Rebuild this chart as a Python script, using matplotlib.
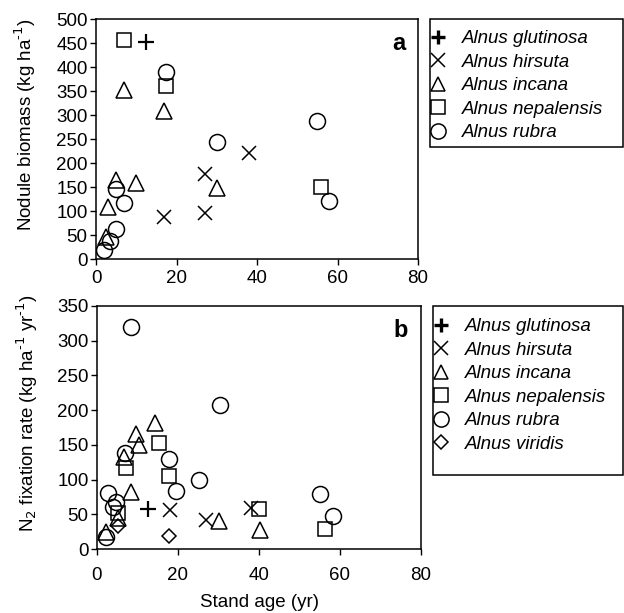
import matplotlib.pyplot as plt
import matplotlib.patches as patches
from matplotlib.lines import Line2D

plt.rcParams['font.family'] = ['Liberation Sans', 'DejaVu Sans']

# ---- panel a: nodule biomass ----
a_glut_x = [12.5]
a_glut_y = [452]
a_hirs_x = [17, 27, 27, 38]
a_hirs_y = [88, 95, 178, 220]
a_inca_x = [7, 17, 5, 10, 3, 30, 2.5]
a_inca_y = [353, 308, 165, 158, 108, 147, 45]
a_nepa_x = [7, 17.5, 56]
a_nepa_y = [457, 360, 149]
a_rubr_x = [17.5, 55, 30, 5, 58, 7, 5, 3.5, 2]
a_rubr_y = [390, 288, 244, 146, 120, 117, 62, 38, 18]

# ---- panel b: N2 fixation rate ----
b_glut_x = [12.5]
b_glut_y = [57]
b_hirs_x = [18, 27, 38]
b_hirs_y = [56, 42, 59]
b_inca_x = [14.2, 9.7, 10.3, 6.7, 8.5, 5.1, 30.2, 40.3, 2.2]
b_inca_y = [181, 166, 150, 133, 82, 44, 41, 27, 24]
b_nepa_x = [15.2, 7.2, 17.7, 5.3, 40.1, 56.2]
b_nepa_y = [153, 116, 105, 52, 58, 29]
b_rubr_x = [8.5, 30.3, 6.9, 17.7, 25.1, 19.6, 2.6, 55.1, 4.7, 3.9, 58.2, 2.2]
b_rubr_y = [320, 207, 138, 129, 99, 84, 80, 79, 68, 60, 48, 17]
b_viri_x = [5.1, 17.7]
b_viri_y = [33, 19]

species = ['Alnus glutinosa', 'Alnus hirsuta', 'Alnus incana',
           'Alnus nepalensis', 'Alnus rubra', 'Alnus viridis']
markers = ['+', 'x', '^', 's', 'o', 'D']
msizes = [11, 10, 11, 10.5, 11.5, 7]

FS = 13.5
W, H = 624, 613
fig = plt.figure(figsize=(W / 100, H / 100), dpi=100)


def px_axes(l, t, r, b):
    return fig.add_axes([l / W, 1 - b / H, (r - l) / W, (b - t) / H])


def draw(ax, series):
    for (xs, ys), m, ms in zip(series, markers, msizes):
        ax.plot(xs, ys, linestyle='none', marker=m, markersize=ms,
                markerfacecolor='none', markeredgecolor='black',
                markeredgewidth=1.6 if m == '+' else 1.1)


def style(ax, ymax, xpad):
    ax.set_xlim(0, 80)
    ax.set_ylim(0, ymax)
    ax.set_xticks(range(0, 81, 20))
    ax.set_yticks(range(0, ymax + 1, 50))
    ax.tick_params(direction='out', length=4, width=1, labelsize=FS,
                   colors='black', pad=2)
    ax.tick_params(axis='x', pad=xpad)
    for s in ax.spines.values():
        s.set_linewidth(1.1)


def legend(ax, n, left, top, right, bottom, first_row):
    handles = [Line2D([], [], linestyle='none', marker=markers[i],
                      markersize=msizes[i] * 0.95, markerfacecolor='none',
                      markeredgecolor='black',
                      markeredgewidth=2.4 if markers[i] == '+' else 1.1)
               for i in range(n)]
    ax.legend(handles, species[:n], loc='upper left',
              bbox_to_anchor=((left + 2) / W, 1 - (first_row - 12) / H),
              bbox_transform=fig.transFigure, borderaxespad=0,
              frameon=False, handlelength=0.6, handletextpad=1.0,
              labelspacing=0.34, borderpad=0,
              prop={'style': 'italic', 'size': FS})
    fig.patches.append(patches.Rectangle(
        (left / W, 1 - bottom / H), (right - left) / W, (bottom - top) / H,
        transform=fig.transFigure, fill=False, edgecolor='black',
        linewidth=1.1))


ax1 = px_axes(96, 19, 418, 259)
draw(ax1, [(a_glut_x, a_glut_y), (a_hirs_x, a_hirs_y), (a_inca_x, a_inca_y),
           (a_nepa_x, a_nepa_y), (a_rubr_x, a_rubr_y)])
style(ax1, 500, 4)
ax1.set_ylabel(r'Nodule biomass (kg ha$^{\text{-1}}$)', fontsize=FS)
ax1.yaxis.set_label_coords(-0.18, 0.56)
ax1.text(0.96, 0.9, 'a', transform=ax1.transAxes, ha='right', va='center',
         fontsize=17, fontweight='bold')
legend(ax1, 5, 430, 19, 623, 147, 42)

ax2 = px_axes(97, 306, 421, 549)
draw(ax2, [(b_glut_x, b_glut_y), (b_hirs_x, b_hirs_y), (b_inca_x, b_inca_y),
           (b_nepa_x, b_nepa_y), (b_rubr_x, b_rubr_y), (b_viri_x, b_viri_y)])
style(ax2, 350, 9)
ax2.set_ylabel(r'N$_2$ fixation rate (kg ha$^{\text{-1}}$ yr$^{\text{-1}}$)',
               fontsize=FS)
ax2.yaxis.set_label_coords(-0.176, 0.56)
ax2.set_xlabel('Stand age (yr)', fontsize=FS, labelpad=7)
ax2.text(0.96, 0.9, 'b', transform=ax2.transAxes, ha='right', va='center',
         fontsize=17, fontweight='bold')
legend(ax2, 6, 433, 306, 623, 475, 330)

fig.savefig('out.png', dpi=100)
